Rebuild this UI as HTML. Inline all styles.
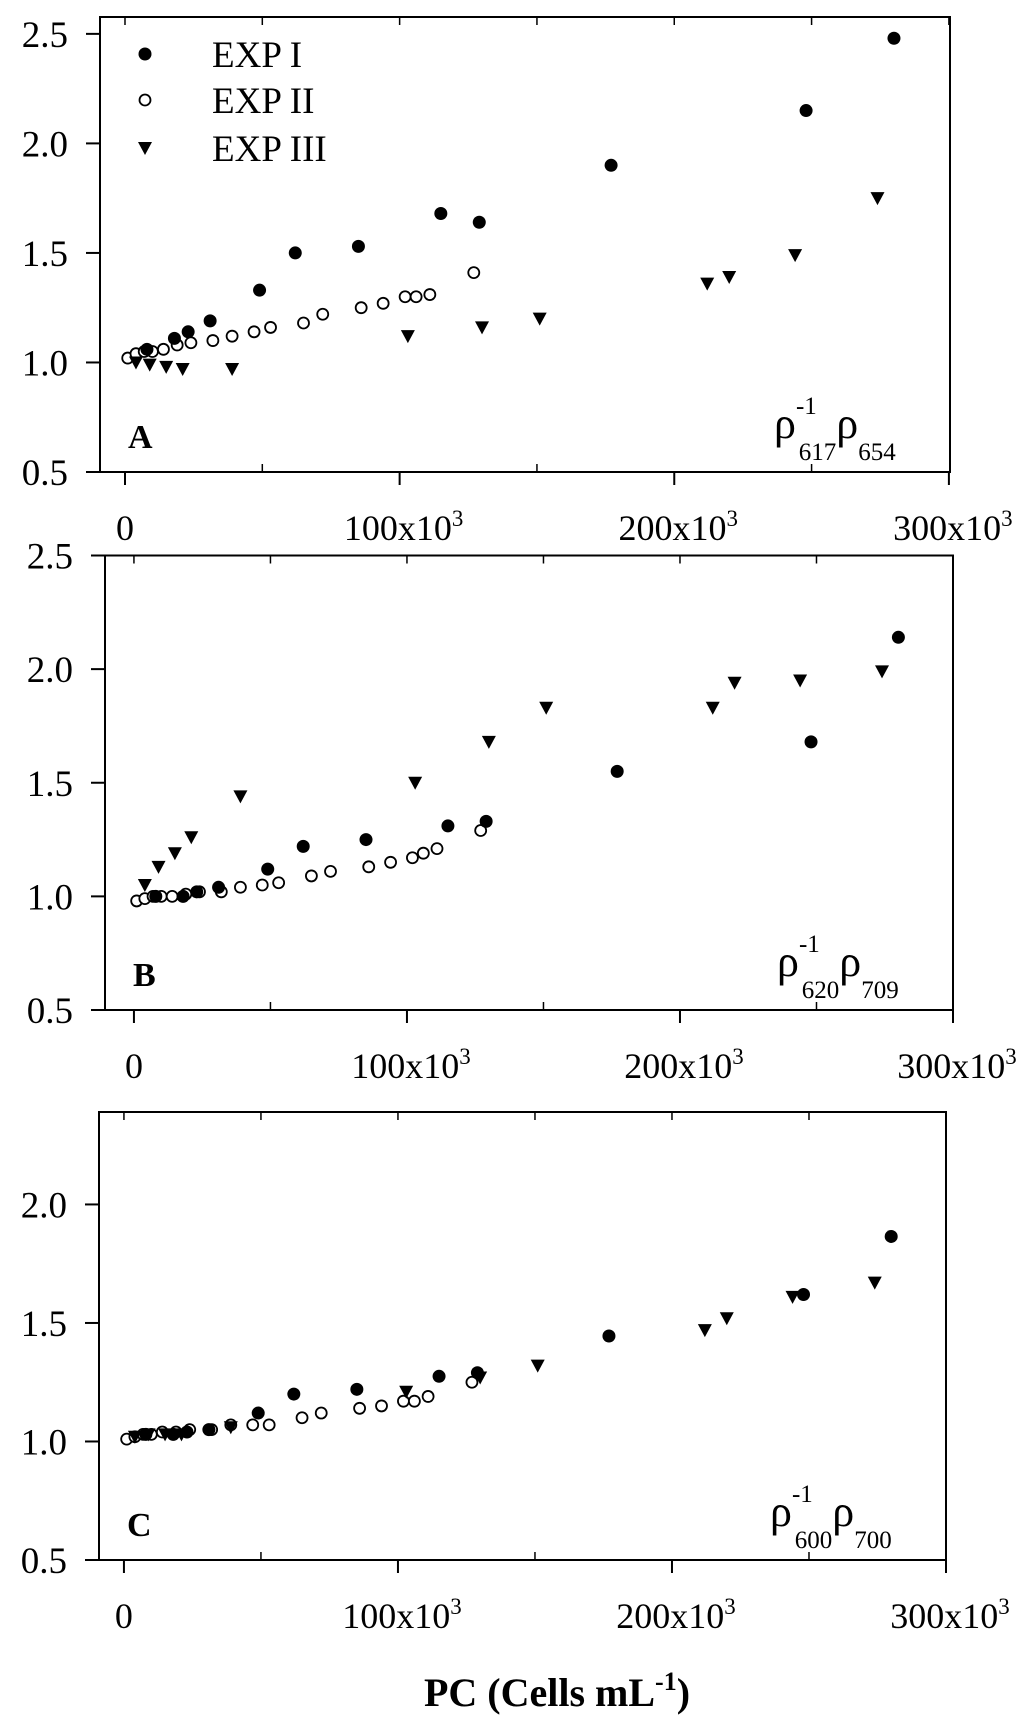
<!DOCTYPE html>
<html><head><meta charset="utf-8"><style>
html,body{margin:0;padding:0;background:#fff;}
svg{display:block;font-family:"Liberation Serif",serif;}
</style></head><body>
<svg id="chart" width="1024" height="1728" viewBox="0 0 1024 1728" xmlns="http://www.w3.org/2000/svg"></svg>
<script>
// x values in thousands of cells/mL
const exp1X = [8,18,23,31,49,62,85,115,129,177,248,280];
const exp2X = [1,4,7,10,14,19,24,32,39,47,53,65,72,86,94,102,106,111,127];
const exp3X = [4,9,15,21,39,103,130,151,212,220,244,274];
const panelAExp1 = [1.06,1.11,1.14,1.19,1.33,1.50,1.53,1.68,1.64,1.90,2.15,2.48];
const panelAExp2 = [1.02,1.04,1.05,1.05,1.06,1.08,1.09,1.10,1.12,1.14,1.16,1.18,1.22,1.25,1.27,1.30,1.30,1.31,1.41];
const panelAExp3 = [1.00,0.99,0.98,0.97,0.97,1.12,1.16,1.20,1.36,1.39,1.49,1.75];
const panelBExp1 = [1.00,1.00,1.02,1.04,1.12,1.22,1.25,1.31,1.33,1.55,1.68,2.14];
const panelBExp2 = [0.98,0.99,1.00,1.00,1.00,1.01,1.02,1.02,1.04,1.05,1.06,1.09,1.11,1.13,1.15,1.17,1.19,1.21,1.29];
const panelBExp3 = [1.05,1.13,1.19,1.26,1.44,1.50,1.68,1.83,1.83,1.94,1.95,1.99];
const panelCExp1 = [1.03,1.03,1.04,1.05,1.12,1.20,1.22,1.275,1.29,1.445,1.62,1.865];
const panelCExp2 = [1.01,1.02,1.03,1.03,1.04,1.04,1.05,1.05,1.07,1.07,1.07,1.10,1.12,1.14,1.15,1.17,1.17,1.19,1.25];
const panelCExp3 = [1.02,1.03,1.03,1.03,1.06,1.21,1.27,1.32,1.47,1.52,1.61,1.67];
const yTicksAB = [0.5,1.0,1.5,2.0,2.5];
const yTicksC = [0.5,1.0,1.5,2.0];
const xTicks = [0,100,200,300];
const xTickLabels = ["0","100x10","200x10","300x10"];
const xMinorTicks = [50,150,250];
const legendLabels = ["EXP I","EXP II","EXP III"];

const NS = "http://www.w3.org/2000/svg";
const svg = document.getElementById('chart');
function mk(tag, attrs, parent){
  const e = document.createElementNS(NS, tag);
  for (const k in attrs) e.setAttribute(k, attrs[k]);
  (parent||svg).appendChild(e);
  return e;
}
function circleFilled(g,x,y){const c=mk('circle',{cx:x,cy:y,r:6.5,fill:'#000'},g);}
function circleOpen(g,x,y){const c=mk('circle',{cx:x,cy:y,r:5.5,fill:'#fff',stroke:'#000','stroke-width':1.8},g);}
function tri(g,x,y){const p=mk('polygon',{points:`${x-7},${y-6} ${x+7},${y-6} ${x},${y+7}`,fill:'#000'},g);}

const panels = [
  {id:'a', letter:'A', L:100, R:950, T:17, B:472, xmin:-9.1, xmax:300.4, ymin:0.5, ymax:2.577, yt:yTicksAB,
   e1:panelAExp1, e2:panelAExp2, e3:panelAExp3, sub1:'617', sub2:'654', legend:true},
  {id:'b', letter:'B', L:105, R:953, T:555.5, B:1010, xmin:-10.6, xmax:300, ymin:0.5, ymax:2.5, yt:yTicksAB,
   e1:panelBExp1, e2:panelBExp2, e3:panelBExp3, sub1:'620', sub2:'709', legend:false},
  {id:'c', letter:'C', L:99, R:946, T:1112, B:1560, xmin:-9.1, xmax:300, ymin:0.5, ymax:2.39, yt:yTicksC,
   e1:panelCExp1, e2:panelCExp2, e3:panelCExp3, sub1:'600', sub2:'700', legend:false}
];

panels.forEach(p=>{
  const g = mk('g',{});
  
  
  const sx = v => p.L + (v-p.xmin)/(p.xmax-p.xmin)*(p.R-p.L);
  const sy = v => p.B - (v-p.ymin)/(p.ymax-p.ymin)*(p.B-p.T);
  const fr = mk('rect',{x:p.L,y:p.T,width:p.R-p.L,height:p.B-p.T,fill:'none',stroke:'#000','stroke-width':2},g);
  
  
  p.yt.forEach(v=>{
    const y=sy(v);
    mk('line',{x1:p.L-14,x2:p.L,y1:y,y2:y,stroke:'#000','stroke-width':2},g);
    const t=mk('text',{x:p.L-32,y:y+13,'text-anchor':'end','font-size':37},g);
    t.textContent=v.toFixed(1);
    
    
  });
  xTicks.forEach((v,i)=>{
    const x=sx(v);
    mk('line',{x1:x,x2:x,y1:p.B,y2:p.B+13,stroke:'#000','stroke-width':2},g);
    mk('line',{x1:x,x2:x,y1:p.T,y2:p.T+8,stroke:'#000','stroke-width':1.5},g);
    const t=mk('text',{x:x,y:p.B+68,'text-anchor':'middle','font-size':36},g);
    
    
    if(i===0){t.textContent=xTickLabels[i];}
    else{
      t.setAttribute('x', x+4);
      t.textContent=xTickLabels[i];
      const s=mk('tspan',{'font-size':23,dy:-14},t);s.textContent='3';
    }
  });
  xMinorTicks.forEach(v=>{
    const x=sx(v);
    mk('line',{x1:x,x2:x,y1:p.B,y2:p.B-8,stroke:'#000','stroke-width':1.5},g);
    mk('line',{x1:x,x2:x,y1:p.T,y2:p.T+8,stroke:'#000','stroke-width':1.5},g);
  });
  exp2X.forEach((v,i)=>circleOpen(g,sx(v),sy(p.e2[i])));
  exp3X.forEach((v,i)=>tri(g,sx(v),sy(p.e3[i])));
  exp1X.forEach((v,i)=>circleFilled(g,sx(v),sy(p.e1[i])));
  const lt=mk('text',{x:p.L+28,y:p.B-24,'font-size':34,'font-weight':'bold'},g);
  lt.textContent=p.letter;
  
  
  const an=mk('text',{x:p.R-176,y:p.B-34,'font-size':44},g);
  
  
  an.textContent='ρ';
  const s1=mk('tspan',{'font-size':25,dy:-24},an);s1.textContent='-1';
  const s2=mk('tspan',{'font-size':25,dy:46,dx:-18},an);s2.textContent=p.sub1;
  const r2=mk('tspan',{'font-size':44,dy:-22},an);r2.textContent='ρ';
  const s3=mk('tspan',{'font-size':25,dy:22},an);s3.textContent=p.sub2;
  if(p.legend){
    const lg=mk('g',{},g);
    
    
    const ys=[54,100,148];
    circleFilled(lg,145,ys[0]); circleOpen(lg,145,ys[1]); tri(lg,145,ys[2]);
    legendLabels.forEach((s,i)=>{
      const t=mk('text',{x:212,y:ys[i]+13,'font-size':37},lg);
      t.textContent=s;
      
      
    });
  }
});
const title=mk('text',{x:557,y:1706,'text-anchor':'middle','font-size':40,'font-weight':'bold'});


title.textContent='PC (Cells mL';
const sup=mk('tspan',{'font-size':26,dy:-16},title);sup.textContent='-1';
const cl=mk('tspan',{'font-size':40,dy:16},title);cl.textContent=')';
</script>
</body></html>
